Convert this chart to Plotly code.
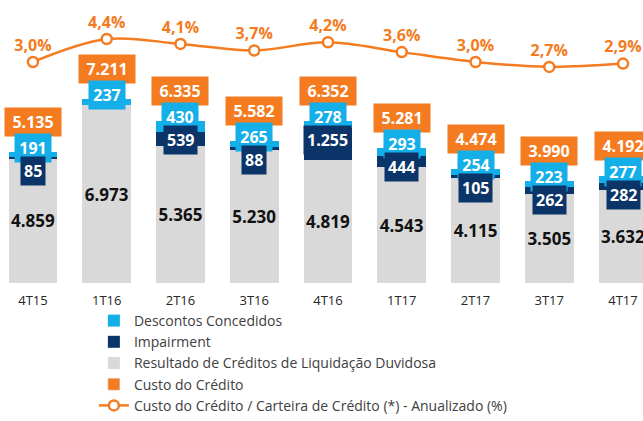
import plotly.graph_objects as go

# dados (R$ milhões)
trimestres = ['4T15', '1T16', '2T16', '3T16', '4T16', '1T17', '2T17', '3T17', '4T17']
resultado_pdd = [4859, 6973, 5365, 5230, 4819, 4543, 4115, 3505, 3632]
impairment = [85, None, 539, 88, 1255, 444, 105, 262, 282]
descontos = [191, 237, 430, 265, 278, 293, 254, 223, 277]
custo_credito = [5135, 7211, 6335, 5582, 6352, 5281, 4474, 3990, 4192]
custo_sobre_carteira = [3.0, 4.4, 4.1, 3.7, 4.2, 3.6, 3.0, 2.7, 2.9]

CINZA = '#D9D9D9'
AZUL_ESCURO = '#0B3469'
AZUL_CLARO = '#14AEE9'
LARANJA = '#F47B20'
FONTE = 'Open Sans'


def fmt_num(v):
    return f'{v:,}'.replace(',', '.')


def fmt_pct(v):
    return f'{v:.1f}%'.replace('.', ',')


fig = go.Figure()

fig.add_trace(go.Bar(
    x=trimestres, y=resultado_pdd, name='Resultado de Créditos de Liquidação Duvidosa',
    marker=dict(color=CINZA, line=dict(width=0)),
    text=[fmt_num(v) for v in resultado_pdd], textposition='inside', textangle=0,
    insidetextanchor='middle', constraintext='none',
    textfont=dict(family=FONTE, size=17, color='#111111', weight='bold'),
    legendrank=3,
))
fig.add_trace(go.Bar(
    x=trimestres, y=impairment, name='Impairment',
    marker=dict(color=AZUL_ESCURO, line=dict(width=0)), legendrank=2,
))
fig.add_trace(go.Bar(
    x=trimestres, y=descontos, name='Descontos Concedidos',
    marker=dict(color=AZUL_CLARO, line=dict(width=0)), legendrank=1,
))
# só para a legenda; os valores aparecem nas caixas laranja
fig.add_trace(go.Bar(
    x=trimestres, y=[None] * len(trimestres), name='Custo do Crédito',
    marker=dict(color=LARANJA), legendrank=4,
))
fig.add_trace(go.Scatter(
    x=trimestres, y=custo_sobre_carteira, yaxis='y2',
    name='Custo do Crédito / Carteira de Crédito (*) - Anualizado (%)',
    mode='lines+markers+text', line=dict(color=LARANJA, width=2.5, shape='spline', smoothing=1),
    marker=dict(symbol='circle', size=10, color='white', line=dict(color=LARANJA, width=2.5)),
    text=[fmt_pct(v) for v in custo_sobre_carteira], textposition='top center',
    textfont=dict(family=FONTE, size=16, color=LARANJA, weight='bold'),
    cliponaxis=False, legendrank=5,
))

# caixas de rótulos
for i, cat in enumerate(trimestres):
    topo = custo_credito[i]
    fig.add_annotation(x=cat, y=topo, yshift=30, text=fmt_num(custo_credito[i]),
                       showarrow=False, bgcolor=LARANJA, borderpad=3, width=50,
                       font=dict(family=FONTE, size=16, color='white', weight='bold'))
    fig.add_annotation(x=cat, y=topo, yshift=4, text=fmt_num(descontos[i]),
                       showarrow=False, bgcolor=AZUL_CLARO, borderpad=3, width=30,
                       font=dict(family=FONTE, size=16, color='white', weight='bold'))
    if impairment[i] is not None:
        fig.add_annotation(x=cat, y=topo, yshift=-19, text=fmt_num(impairment[i]),
                           showarrow=False, bgcolor=AZUL_ESCURO, borderpad=3,
                           font=dict(family=FONTE, size=16, color='white', weight='bold'))

fig.update_layout(
    width=643, height=421,
    margin=dict(l=0, r=0, t=0, b=0),
    paper_bgcolor='white', plot_bgcolor='white',
    barmode='stack', bargap=0.34,
    font=dict(family=FONTE, color='#404040'),
    xaxis=dict(range=[-0.447, 8.271], showgrid=False, zeroline=False, showline=False,
               automargin=False, ticklabelstandoff=8,
               tickfont=dict(size=13, color='#262626')),
    yaxis=dict(domain=[0.328, 1], range=[0, 11100], visible=False, automargin=False),
    yaxis2=dict(domain=[0.328, 1], range=[-10.48, 6.78], overlaying='y', visible=False,
                automargin=False),
    legend=dict(x=0.146, y=0, xanchor='left', yanchor='bottom', orientation='v',
                traceorder='normal',
                font=dict(size=14, color='#404040'),
                itemwidth=30, tracegroupgap=0, bgcolor='rgba(0,0,0,0)'),
    showlegend=True,
)

fig.write_html('out.html', config={'displayModeBar': False},
               post_script="document.body.style.margin='0';")
